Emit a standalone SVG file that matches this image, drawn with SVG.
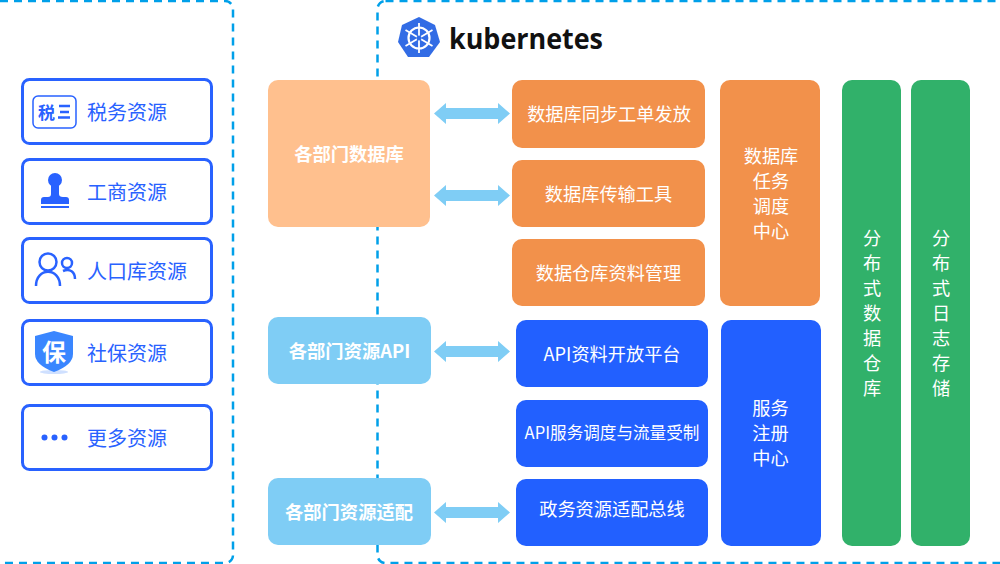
<svg xmlns="http://www.w3.org/2000/svg" width="1000" height="564" viewBox="0 0 1000 564">
<style>
.t{font-family:"Noto Sans CJK SC","Noto Sans",sans-serif;text-anchor:middle;dominant-baseline:central}
.w{fill:#fff;font-size:18.200px}
.wb{fill:#fff;font-size:18.300px;font-weight:700}
.b{fill:#2962ff;font-size:20px}
.res{fill:#fff;stroke:#2962ff;stroke-width:3}
.dash{fill:none;stroke:#00a0e9;stroke-width:2.500;stroke-dasharray:8 6}
.or{fill:#f2914b}.bl{fill:#2260ff}.gr{fill:#31b16a}.pe{fill:#ffc08e}.sk{fill:#7fcdf5}
.arr{fill:#7fcdf5}
</style>
<rect class="dash" x="-8" y="1" width="241" height="562" rx="8"/>
<rect class="dash" x="377.500" y="1" width="640" height="562" rx="8"/>
<g id="connectors" class="arr">
<path d="M434 113.500L446 103V108H498V103L510 113.500L498 124V119H446V124Z"/>
<path d="M434 195.500L446 185V190H498V185L510 195.500L498 206V201H446V206Z"/>
<path d="M434 351.500L446 341V346H498V341L510 351.500L498 362V357H446V362Z"/>
<path d="M434 512.500L446 502V507H498V502L510 512.500L498 523V518H446V523Z"/>
</g>
<g id="n-tax"><rect class="res" x="22.500" y="79.500" width="189" height="64" rx="7"/>
<rect x="33" y="96" width="43" height="32" rx="5" fill="none" stroke="#2962ff" stroke-width="1.500"/>
<text class="t" x="46.500" y="111" fill="#2962ff" font-size="17" font-weight="700">税</text>
<path d="M59 106H70M60 112H69M58 117.500H70" stroke="#2962ff" stroke-width="2.500" fill="none"/>
<text class="t b" x="127" y="111">税务资源</text></g>
<g id="n-biz"><rect class="res" x="22.500" y="159.500" width="189" height="64" rx="7"/>
<circle cx="55" cy="180" r="7" fill="#2962ff"/><path d="M51 184H59V194Q59 197 63 197H66Q69 197 69 200V204H41V200Q41 197 44 197H48Q51 197 51 194Z" fill="#2962ff"/><rect x="41" y="206" width="28" height="2" fill="#2962ff"/>
<text class="t b" x="127" y="191">工商资源</text></g>
<g id="n-pop"><rect class="res" x="22.500" y="238.500" width="189" height="64" rx="7"/>
<g fill="none" stroke="#2962ff" stroke-width="2.500"><circle cx="48" cy="262" r="8.500"/><path d="M36 286C36 267 60 267 60 286"/><circle cx="67" cy="263" r="5"/><path d="M63 271C70 268 75 272 75 279"/></g>
<text class="t b" x="137" y="270">人口库资源</text></g>
<g id="n-sec"><rect class="res" x="22.500" y="320.500" width="189" height="64" rx="7"/>
<ellipse cx="54" cy="372" rx="14" ry="2" fill="#cfe0ff"/>
<path d="M54 331L73 336V354Q73 365 54 372Q35 365 35 354V336Z" fill="#3a86ff"/>
<text class="t" x="54" y="350" fill="#fff" font-size="24" font-weight="700">保</text>
<text class="t b" x="127" y="352">社保资源</text></g>
<g id="n-more"><rect class="res" x="22.500" y="405.500" width="189" height="64" rx="7"/>
<g fill="#2962ff"><circle cx="44.500" cy="437.500" r="3"/><circle cx="54.500" cy="437.500" r="3"/><circle cx="64.500" cy="437.500" r="3"/></g>
<text class="t b" x="127" y="437">更多资源</text></g>
<g id="logo"><path d="M419 17L435 25L440 42L429 57H408L398 42L402 25Z" fill="#326ce5"/>
<g fill="none" stroke="#fff"><circle cx="419" cy="38" r="10.500" stroke-width="2.200"/><path d="M419 23V53M405.500 30L432.500 46M432.500 30L405.500 46" stroke-width="1.800"/></g><circle cx="419" cy="38" r="2.500" fill="#326ce5"/>
<text x="449" y="49" font-family="Open Sans,sans-serif" font-size="28" font-weight="700" fill="#111" textLength="154" lengthAdjust="spacingAndGlyphs">kubernetes</text></g>
<g id="n1"><rect class="pe" x="268" y="80" width="162" height="147" rx="10"/><text class="t wb" x="349" y="153">各部门数据库</text></g>
<g id="n2"><rect class="sk" x="268" y="317" width="163" height="67" rx="10"/><text class="t wb" x="349.500" y="350">各部门资源API</text></g>
<g id="n3"><rect class="sk" x="268" y="478" width="163" height="67" rx="10"/><text class="t wb" x="349" y="511">各部门资源适配</text></g>
<g id="n4"><rect class="or" x="512" y="80" width="193" height="68" rx="10"/><text class="t w" x="609" y="113">数据库同步工单发放</text></g>
<g id="n5"><rect class="or" x="512" y="160" width="193" height="67" rx="10"/><text class="t w" x="608.500" y="192.500">数据库传输工具</text></g>
<g id="n6"><rect class="or" x="512" y="239" width="193" height="67" rx="10"/><text class="t w" x="608.500" y="271.500">数据仓库资料管理</text></g>
<g id="n7"><rect class="bl" x="516" y="320" width="192" height="67" rx="10"/><text class="t w" x="612" y="353">API资料开放平台</text></g>
<g id="n8"><rect class="bl" x="516" y="400" width="192" height="67" rx="10"/><text class="t" x="612" y="432" fill="#fff" font-size="16.600">API服务调度与流量受制</text></g>
<g id="n9"><rect class="bl" x="516" y="479" width="192" height="67" rx="10"/><text class="t w" x="612" y="508">政务资源适配总线</text></g>
<g id="n10"><rect class="or" x="720" y="80" width="100" height="226" rx="10"/><g class="t w"><text x="771" y="155">数据库</text><text x="771" y="180">任务</text><text x="771" y="205">调度</text><text x="771" y="230">中心</text></g></g>
<g id="n11"><rect class="bl" x="721" y="320" width="100" height="226" rx="10"/><g class="t w"><text x="770.500" y="407">服务</text><text x="770.500" y="432">注册</text><text x="770.500" y="457">中心</text></g></g>
<g id="n12"><rect class="gr" x="842" y="80" width="59" height="466" rx="10"/><g class="t w"><text x="872" y="237">分</text><text x="872" y="262">布</text><text x="872" y="287">式</text><text x="872" y="312">数</text><text x="872" y="337">据</text><text x="872" y="362">仓</text><text x="872" y="387">库</text></g></g>
<g id="n13"><rect class="gr" x="911" y="80" width="59" height="466" rx="10"/><g class="t w"><text x="941" y="237">分</text><text x="941" y="262">布</text><text x="941" y="287">式</text><text x="941" y="312">日</text><text x="941" y="337">志</text><text x="941" y="362">存</text><text x="941" y="387">储</text></g></g>
</svg>
